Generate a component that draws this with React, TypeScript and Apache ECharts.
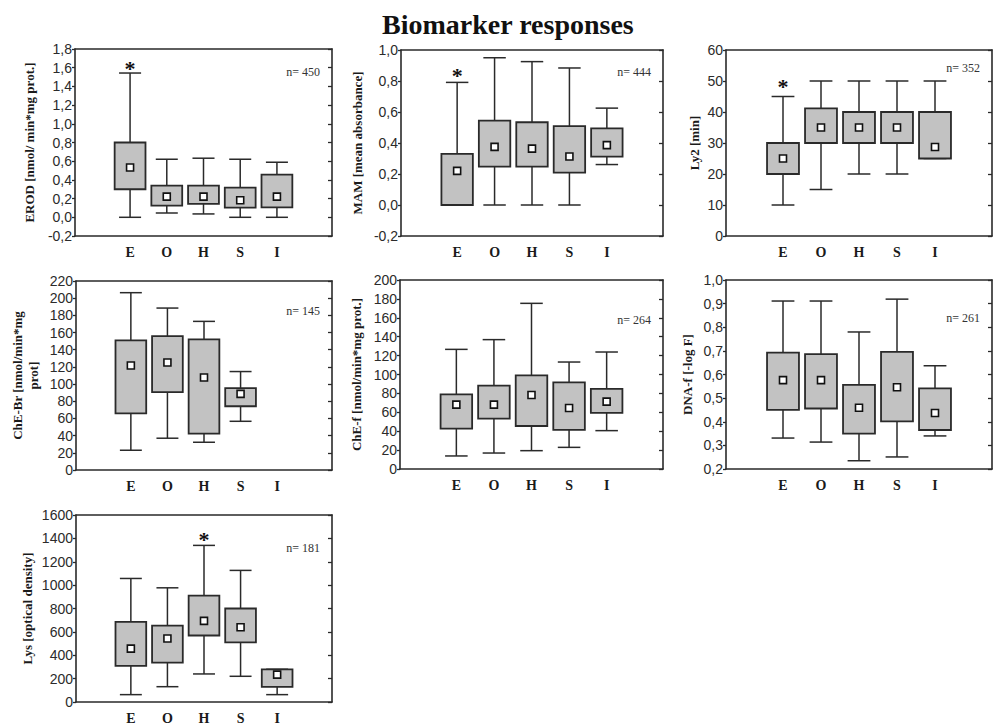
import React, { useEffect, useRef } from 'react';
import * as echarts from 'echarts';

const categories = ['', 'E', 'O', 'H', 'S', 'I', ''];

// each row: [min, q1, center, q3, max] for E, O, H, S, I
const erod = [
  [0, 0.30, 0.532, 0.80, 1.543],
  [0.046, 0.125, 0.221, 0.339, 0.621],
  [0.036, 0.143, 0.221, 0.339, 0.632],
  [0, 0.104, 0.182, 0.318, 0.621],
  [0, 0.107, 0.221, 0.457, 0.589],
];
const erodStars = [1.65, null, null, null, null];

const mam = [
  [0, 0, 0.22, 0.33, 0.791],
  [0, 0.248, 0.375, 0.545, 0.95],
  [0, 0.248, 0.364, 0.534, 0.925],
  [0, 0.209, 0.3125, 0.509, 0.884],
  [0.261, 0.3125, 0.386, 0.494, 0.625],
];
const mamStars = [0.87, null, null, null, null];

const ly2 = [
  [10, 20, 25, 30, 45],
  [15, 30, 35, 41.2, 50],
  [20, 30, 35, 40, 50],
  [20, 30, 35, 40, 50],
  [25, 25, 28.7, 40, 50],
];
const ly2Stars = [50, null, null, null, null];

const cheBr = [
  [23, 66, 121.6, 150.8, 206.4],
  [37, 90.6, 125.1, 155.8, 188.5],
  [32.3, 42.4, 107.7, 152, 173],
  [56.7, 74.2, 88.6, 95.2, 114.6],
  null,
];
const cheBrStars = [null, null, null, null, null];

const cheF = [
  [13.8, 42.7, 68.1, 79, 126.6],
  [16.9, 53.3, 68.1, 88.2, 136.9],
  [19.4, 45.5, 78.3, 99.1, 175.3],
  [22.9, 41.3, 64.6, 91.7, 113.2],
  [40.6, 59.3, 71.3, 84.7, 123.8],
];
const cheFStars = [null, null, null, null, null];

const dnaF = [
  [0.331, 0.45, 0.576, 0.693, 0.911],
  [0.314, 0.456, 0.576, 0.686, 0.911],
  [0.235, 0.35, 0.459, 0.556, 0.78],
  [0.251, 0.402, 0.546, 0.696, 0.919],
  [0.34, 0.365, 0.437, 0.541, 0.637],
];
const dnaFStars = [null, null, null, null, null];

const lys = [
  [63, 309, 457, 686, 1057],
  [131, 337, 543, 654, 977],
  [240, 569, 694, 911, 1340],
  [220, 511, 640, 800, 1126],
  [63, 129, 234, 280, 280],
];
const lysStars = [null, null, 1430, null, null];

const sampleSizes = [450, 444, 352, 145, 264, 261, 181];

const axisNames = [
  'EROD [nmol/ min*mg prot.]',
  'MAM [mean absorbance]',
  'Ly2 [min]',
  'ChE-Br [nmol/min*mg\nprot]',
  'ChE-f [nmol/min*mg prot.]',
  'DNA-f [-log F]',
  'Lys [optical density]',
];

const yMins = [-0.2, -0.2, 0, 0, 0, 0.2, 0];
const yMaxs = [1.8, 1.0, 60, 220, 200, 1.0, 1600];
const yIntervals = [0.2, 0.2, 10, 20, 20, 0.1, 200];
const yDecimals = [1, 1, 0, 0, 0, 1, 0];

const seriesData = [erod, mam, ly2, cheBr, cheF, dnaF, lys];
const starData = [erodStars, mamStars, ly2Stars, cheBrStars, cheFStars, dnaFStars, lysStars];

// layout (pixels)
const grids = [
  { left: 75, top: 49, width: 257, height: 187, nameGap: 38, nY: 23 },
  { left: 401, top: 50, width: 262, height: 186, nameGap: 36, nY: 22 },
  { left: 726, top: 50, width: 266, height: 186, nameGap: 24, nY: 18 },
  { left: 76, top: 281, width: 256, height: 189, nameGap: 35, nY: 30 },
  { left: 400, top: 280, width: 263, height: 189, nameGap: 36, nY: 40 },
  { left: 726, top: 280, width: 266, height: 189, nameGap: 31, nY: 38 },
  { left: 76, top: 515, width: 256, height: 187, nameGap: 41, nY: 33 },
];

const LINE = '#2a2a2a';
const BOX_FILL = '#c2c2c2';

export default function App() {
  const ref = useRef<HTMLDivElement>(null);
  useEffect(() => {
    document.body.style.margin = '0';
    if (!ref.current) return;
    const chart = echarts.init(ref.current, null, { renderer: 'svg' });

    const xAxis: any[] = [];
    const yAxis: any[] = [];
    const series: any[] = [];
    const graphic: any[] = [];

    grids.forEach((g, i) => {
      xAxis.push({
        type: 'category',
        gridIndex: i,
        data: categories,
        position: 'bottom',
        boundaryGap: true,
        axisLine: { onZero: false, lineStyle: { color: LINE, width: 1.6 } },
        axisTick: { alignWithLabel: true, inside: true, length: 4, lineStyle: { color: LINE, width: 1.3 } },
        axisLabel: {
          fontFamily: 'Liberation Serif',
          fontWeight: 'bold',
          fontSize: 14,
          color: '#1a1a1a',
          margin: 9,
        },
        splitLine: { show: false },
      });
      xAxis.push({
        type: 'category',
        gridIndex: i,
        data: categories,
        position: 'top',
        boundaryGap: true,
        axisLine: { onZero: false, lineStyle: { color: LINE, width: 1.6 } },
        axisTick: { alignWithLabel: true, inside: true, length: 4, lineStyle: { color: LINE, width: 1.3 } },
        axisLabel: { show: false },
        splitLine: { show: false },
      });
      const dec = yDecimals[i];
      yAxis.push({
        type: 'value',
        gridIndex: i,
        position: 'left',
        min: yMins[i],
        max: yMaxs[i],
        interval: yIntervals[i],
        name: axisNames[i],
        nameLocation: 'middle',
        nameRotate: 90,
        nameGap: g.nameGap,
        nameTextStyle: {
          fontFamily: 'Liberation Serif',
          fontWeight: 'bold',
          fontSize: 13,
          color: '#1a1a1a',
          lineHeight: 16,
        },
        axisLine: { show: true, onZero: false, lineStyle: { color: LINE, width: 1.6 } },
        axisTick: { show: true, inside: false, length: 3, lineStyle: { color: LINE, width: 1.3 } },
        axisLabel: {
          fontFamily: 'Liberation Sans',
          fontSize: 14,
          color: '#2b2b2b',
          margin: 3,
          formatter: (v: number) => v.toFixed(dec).replace('.', ','),
        },
        splitLine: { show: false },
      });
      yAxis.push({
        type: 'value',
        gridIndex: i,
        position: 'right',
        min: yMins[i],
        max: yMaxs[i],
        interval: yIntervals[i],
        axisLine: { show: true, onZero: false, lineStyle: { color: LINE, width: 1.6 } },
        axisTick: { show: true, inside: true, length: 4, lineStyle: { color: LINE, width: 1.3 } },
        axisLabel: { show: false },
        splitLine: { show: false },
      });

      const rows = seriesData[i];
      const stars = starData[i];
      const data: any[] = [];
      rows.forEach((r, k) => {
        if (!r) return;
        data.push([k + 1, r[0], r[1], r[2], r[3], r[4], stars[k] == null ? -9999 : stars[k]]);
      });

      series.push({
        type: 'custom',
        xAxisIndex: 2 * i,
        yAxisIndex: 2 * i,
        data,
        encode: { x: 0, y: [1, 2, 3, 4, 5] },
        renderItem: (params: any, api: any) => {
          const idx = api.value(0);
          const x = api.coord([idx, api.value(1)])[0];
          const yMin = api.coord([idx, api.value(1)])[1];
          const yQ1 = api.coord([idx, api.value(2)])[1];
          const yC = api.coord([idx, api.value(3)])[1];
          const yQ3 = api.coord([idx, api.value(4)])[1];
          const yMax = api.coord([idx, api.value(5)])[1];
          const band = api.size([1, 0])[0];
          const bw = band * 0.84;
          const cw = band * 0.6;
          const ls = { stroke: LINE, lineWidth: 1.5 };
          const children: any[] = [
            { type: 'line', shape: { x1: x, y1: yMax, x2: x, y2: yQ3 }, style: ls },
            { type: 'line', shape: { x1: x, y1: yQ1, x2: x, y2: yMin }, style: ls },
            { type: 'line', shape: { x1: x - cw / 2, y1: yMax, x2: x + cw / 2, y2: yMax }, style: ls },
            { type: 'line', shape: { x1: x - cw / 2, y1: yMin, x2: x + cw / 2, y2: yMin }, style: ls },
            {
              type: 'rect',
              shape: { x: x - bw / 2, y: yQ3, width: bw, height: yQ1 - yQ3 },
              style: { fill: BOX_FILL, stroke: LINE, lineWidth: 1.8 },
            },
            {
              type: 'rect',
              shape: { x: x - 3.5, y: yC - 3.5, width: 7, height: 7 },
              style: { fill: '#ffffff', stroke: '#111', lineWidth: 1.6 },
            },
          ];
          const sv = api.value(6);
          if (sv > -9000) {
            const ys = api.coord([idx, sv])[1];
            children.push({
              type: 'text',
              x: x,
              y: ys + 5,
              style: {
                text: '*',
                fill: '#111',
                font: 'bold 22px "Liberation Serif"',
                align: 'center',
                verticalAlign: 'middle',
              },
            });
          }
          return { type: 'group', children };
        },
      });

      graphic.push({
        type: 'text',
        x: g.left + g.width - 12,
        y: g.top + g.nY,
        style: {
          text: 'n= ' + sampleSizes[i],
          fill: '#333',
          font: '12px "Liberation Serif"',
          align: 'right',
          verticalAlign: 'middle',
        },
      });
    });

    chart.setOption({
      animation: false,
      backgroundColor: '#ffffff',
      title: {
        text: 'Biomarker responses',
        left: 377,
        top: 5,
        textStyle: {
          fontFamily: 'Liberation Serif',
          fontWeight: 'bold',
          fontSize: 28,
          color: '#111',
        },
      },
      grid: grids.map((g) => ({ left: g.left, top: g.top, width: g.width, height: g.height })),
      xAxis,
      yAxis,
      series,
      graphic,
    });

    return () => chart.dispose();
  }, []);

  return <div ref={ref} style={{ width: 999, height: 728 }} />;
}
